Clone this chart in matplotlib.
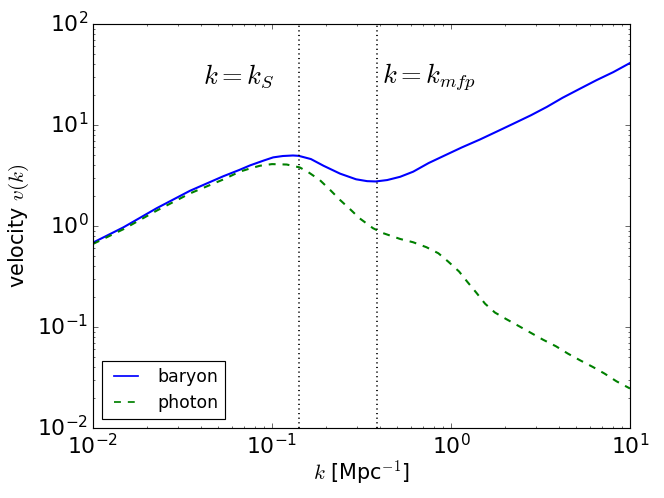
import numpy as np
import matplotlib
matplotlib.use("Agg")
import matplotlib.pyplot as plt

# valores (escala log-log)
k_baryon = [0.01, 0.0148, 0.0227, 0.0348, 0.0535, 0.066, 0.0754, 0.09, 0.1016,
            0.115, 0.131, 0.141, 0.165, 0.194, 0.24, 0.295, 0.34, 0.38, 0.44,
            0.52, 0.615, 0.75, 0.946, 1.15, 1.45, 1.8, 2.23, 2.8, 3.43, 4.2,
            5.26, 6.5, 8.07, 10.0]
v_baryon = [0.684, 0.97, 1.5, 2.23, 3.11, 3.6, 3.98, 4.45, 4.78,
            4.93, 4.99, 4.95, 4.6, 3.95, 3.3, 2.9, 2.78, 2.76, 2.85,
            3.07, 3.45, 4.2, 5.1, 6.0, 7.18, 8.6, 10.3, 12.5, 15.1, 18.6,
            22.9, 27.8, 33.4, 41.1]

k_photon = [0.01, 0.0148, 0.0227, 0.0348, 0.0535, 0.066, 0.0754, 0.0857, 0.1,
            0.121, 0.143, 0.16, 0.185, 0.21, 0.24, 0.275, 0.309, 0.367, 0.417,
            0.52, 0.615, 0.73, 0.85, 0.965, 1.11, 1.23, 1.39, 1.55, 1.76,
            2.03, 2.42, 2.8, 3.26, 3.86, 4.5, 5.26, 6.2, 7.2, 8.4, 10.0]
v_photon = [0.664, 0.93, 1.42, 2.1, 2.89, 3.45, 3.71, 3.95, 4.1,
            4.06, 3.8, 3.4, 2.85, 2.3, 1.81, 1.45, 1.19, 0.95, 0.85,
            0.744, 0.69, 0.616, 0.537, 0.444, 0.354, 0.282, 0.217, 0.17, 0.139,
            0.12, 0.101, 0.0873, 0.075, 0.0644, 0.0545, 0.0468, 0.0402, 0.0346, 0.029, 0.0246]

k_S = 0.141
k_mfp = 0.384

plt.style.use('classic')
plt.rcParams['axes.unicode_minus'] = False

fig = plt.figure(figsize=(8, 6), dpi=83)
ax = fig.add_subplot(111)
fig.subplots_adjust(left=0.140, right=0.9488, bottom=0.1406, top=0.9518)

ax.loglog(k_baryon, v_baryon, 'b-', linewidth=1.8, label='baryon')
ax.loglog(k_photon, v_photon, 'g--', linewidth=1.8, label='photon')

# linhas verticais pontilhadas nas escalas características
ax.axvline(k_S, color='k', linestyle=':', linewidth=1.5)
ax.axvline(k_mfp, color='k', linestyle=':', linewidth=1.5)

ax.text(0.041, 25.6, r'$k=k_S$', fontsize=23)
ax.text(0.41, 25.6, r'$k=k_{mfp}$', fontsize=23)

ax.set_xlim(1e-2, 1e1)
ax.set_ylim(1e-2, 1e2)
ax.set_xlabel(r'$k$ [Mpc$^{-1}$]', fontsize=18, labelpad=2)
ax.set_ylabel(r'velocity $v(k)$', fontsize=18)
ax.tick_params(axis='both', which='major', labelsize=19)

leg = ax.legend(loc='lower left', fontsize=15, handlelength=2.0,
                borderaxespad=0.5)
for line in leg.get_lines():
    line.set_linewidth(1.5)

plt.savefig("out.png", dpi=83)
